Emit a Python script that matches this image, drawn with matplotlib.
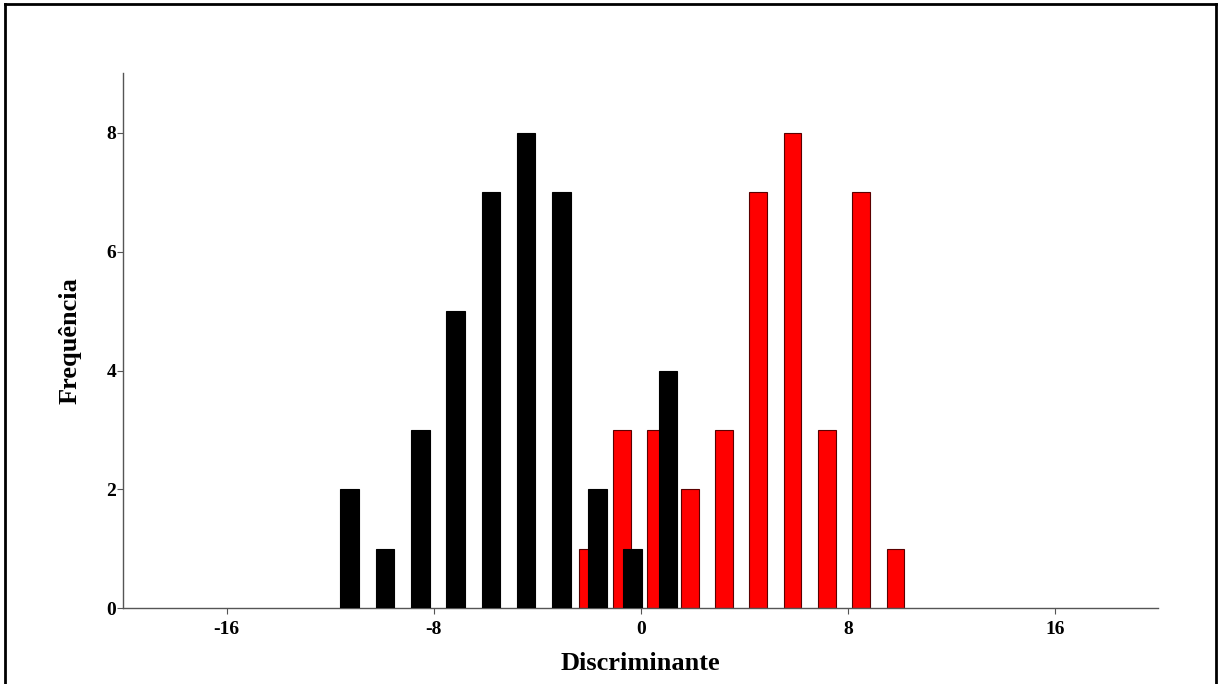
import matplotlib
matplotlib.use("Agg")
import matplotlib.pyplot as plt
from matplotlib.lines import Line2D

plt.rcParams["axes.unicode_minus"] = False

# Data (bin centers and frequencies)
black_x = [-11.25, -9.88, -8.51, -7.16, -5.78, -4.42, -3.06, -1.67, -0.32, 1.05]
black_counts = [2, 1, 3, 5, 7, 8, 7, 2, 1, 4]
red_x = [-2.06, -0.73, 0.59, 1.90, 3.22, 4.54, 5.87, 7.19, 8.52, 9.84]
red_counts = [1, 3, 3, 2, 3, 7, 8, 3, 7, 1]
x_ticks = [-16, -8, 0, 8, 16]
y_ticks = [0, 2, 4, 6, 8]

W, H = 1219, 684
fig = plt.figure(figsize=(W / 100, H / 100), dpi=100)
ax = fig.add_axes([123 / W, 1 - 608.3 / H, (1158.4 - 123) / W, (608.3 - 73.3) / H])

ax.bar(red_x, red_counts, width=0.68, color="#ff0000", edgecolor="#5a0000",
       linewidth=0.8, zorder=2)
ax.bar(black_x, black_counts, width=0.71, color="black", edgecolor="black",
       linewidth=0.8, zorder=3)

ax.set_xlim(-20, 20)
ax.set_ylim(0, 9)
ax.set_xticks(x_ticks)
ax.set_yticks(y_ticks)

font = "Liberation Serif"
for s in ["top", "right"]:
    ax.spines[s].set_visible(False)
for s in ["left", "bottom"]:
    ax.spines[s].set_color("#555555")
    ax.spines[s].set_linewidth(1.0)
ax.tick_params(axis="both", direction="out", length=4, width=0.8, color="#555555")
ax.tick_params(axis="y", pad=1)
ax.tick_params(axis="x", pad=5)
for lab in ax.get_xticklabels() + ax.get_yticklabels():
    lab.set_fontfamily(font)
    lab.set_fontweight("bold")
    lab.set_fontsize(14)

ax.set_xlabel("Discriminante", fontfamily=font, fontweight="bold", fontsize=19, labelpad=10)
ax.set_ylabel("Frequência", fontfamily=font, fontweight="bold", fontsize=19, labelpad=18)

# Figure border
bx0, bx1, by0 = 5 / W, 1216 / W, 1 - 3.5 / H
fig.add_artist(Line2D([bx0, bx0], [0, by0], transform=fig.transFigure, color="black", lw=2))
fig.add_artist(Line2D([bx1, bx1], [0, by0], transform=fig.transFigure, color="black", lw=2))
fig.add_artist(Line2D([bx0, bx1], [by0, by0], transform=fig.transFigure, color="black", lw=2))

fig.savefig("out.png", dpi=100, facecolor="white")
